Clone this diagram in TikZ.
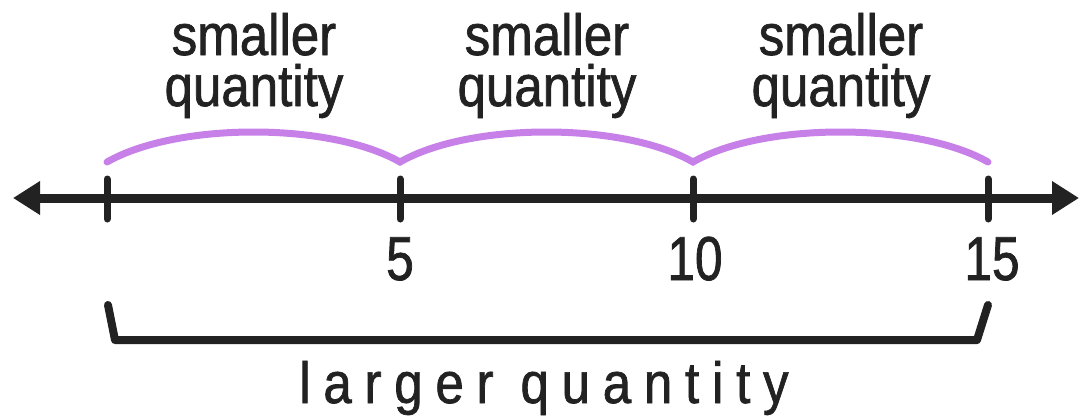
\documentclass[tikz,border=0pt]{standalone}
\usepackage{fontspec}
\setmainfont{Liberation Sans}[FakeStretch=0.88,FakeBold=1.2]
\newfontfamily\digitfont{Liberation Sans}[FakeStretch=0.8,FakeBold=1.2]
\usetikzlibrary{arrows.meta,calc}
\definecolor{ink}{HTML}{222222}
\definecolor{arcpurple}{RGB}{199,128,232}
\tikzset{
  axisline/.style={draw=ink, line width=9pt, {Triangle[length=27pt,width=32pt]}-{Triangle[length=27pt,width=32pt]}},
  tickmark/.style={draw=ink, line width=7pt, line cap=round},
  jumparc/.style={draw=arcpurple, line width=7pt, line cap=round, line join=miter},
  brace/.style={draw=ink, line width=8pt, line cap=round, line join=round},
  lbl/.style={font=\fontsize{58}{51}\selectfont, text=ink, inner sep=0pt, anchor=base, align=center},
  numlbl/.style={font=\digitfont\fontsize{62}{62}\selectfont, text=ink, inner sep=0pt, anchor=base},
}
\begin{document}
\begin{tikzpicture}[x=1pt,y=-1pt]
\useasboundingbox (0,0) rectangle (1080,416);
% axis
\coordinate (L) at (13,198);
\coordinate (R) at (1079,198);
\draw[axisline] (L) -- (R);
% ticks
\foreach \n/\x in {0/107,1/400,2/693,3/988}{
  \coordinate (tt\n) at (\x,179);
  \coordinate (tb\n) at (\x,219);
  \draw[tickmark] (tt\n) -- (tb\n);
  \coordinate (a\n) at (\x,162);
}
% arcs
\draw[jumparc] (a0) .. controls ($(a0)+(70,-40)$) and ($(a1)+(-70,-40)$) .. (a1)
  .. controls ($(a1)+(70,-40)$) and ($(a2)+(-70,-40)$) .. (a2)
  .. controls ($(a2)+(70,-40)$) and ($(a3)+(-70,-40)$) .. (a3);
% numbers
\node[numlbl] (n5) at (400,280) {5};
\node[numlbl] (n10) at (695,280) {10};
\node[numlbl] (n15) at (992,280) {15};
% labels above
\node[lbl] (s1) at (254,106) {smaller\\quantity};
\node[lbl] (s2) at (547,106) {smaller\\quantity};
\node[lbl] (s3) at (841,106) {smaller\\quantity};
% bracket
\coordinate (b1) at (108,305);
\coordinate (b2) at (115,340);
\coordinate (b3) at (977,340);
\coordinate (b4) at (988,305);
\draw[brace] (b1) -- (b2) -- (b3) -- (b4);
\node[lbl] (lq) at (544,403) {\addfontfeature{LetterSpace=22}larger quantity};
\end{tikzpicture}
\end{document}
